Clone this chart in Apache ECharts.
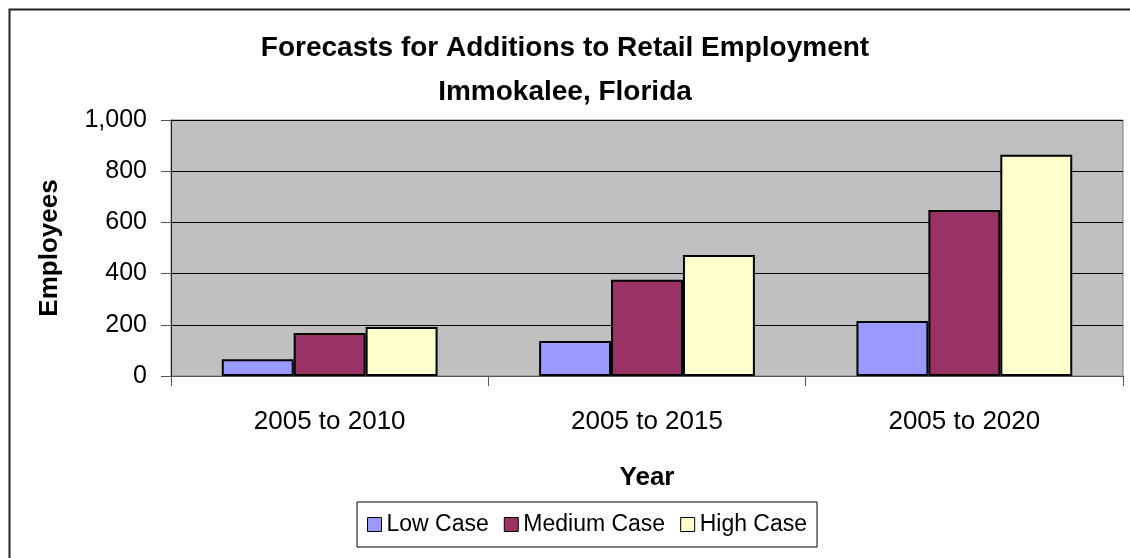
<!DOCTYPE html>
<html>
<head>
<meta charset="utf-8">
<script src="https://cdn.jsdelivr.net/npm/echarts@6/dist/echarts.min.js"></script>
<style>
  html, body { margin: 0; padding: 0; background: #fff; }
  #chart { width: 1130px; height: 558px; }
</style>
</head>
<body>
<div id="chart"></div>
<script>
const categories = ["2005 to 2010", "2005 to 2015", "2005 to 2020"];
const lowCase = [65, 137, 215];
const mediumCase = [168, 376, 648];
const highCase = [191, 473, 864];
const yTicks = { min: 0, max: 1000, step: 200 };

const font = "'Liberation Sans', Arial, sans-serif";

function fmtNum(v) {
  return Number(v).toLocaleString("en-US");
}

function bar(name, data, color) {
  return {
    name,
    type: "bar",
    data,
    barGap: "0%",
    barCategoryGap: "32%",
    itemStyle: { color, borderColor: "#000", borderWidth: 2 },
  };
}

const chart = echarts.init(document.getElementById("chart"));
chart.setOption({
  animation: false,
  textStyle: { fontFamily: font },
  title: {
    text: "Forecasts for Additions to Retail Employment\nImmokalee, Florida",
    left: "center",
    top: 26,
    padding: [0, 0, 0, 19],
    textStyle: { fontFamily: font, fontSize: 28, fontWeight: "bold", color: "#000", lineHeight: 44 },
  },
  graphic: [
    {
      type: "rect",
      left: 7,
      top: 7,
      shape: { width: 1140, height: 570 },
      style: { fill: "none", stroke: "#222", lineWidth: 2 },
      silent: true,
    },
  ],
  legend: {
    left: 357,
    top: 502,
    padding: [11, 10],
    itemGap: 15,
    itemWidth: 14,
    itemHeight: 14,
    itemTextGap: 5,
    icon: "rect",
    borderColor: "#000",
    borderWidth: 1,
    textStyle: { fontFamily: font, fontSize: 23, color: "#000" },
    itemStyle: { borderColor: "#000", borderWidth: 1 },
  },
  grid: {
    left: 171,
    right: 7,
    top: 120,
    bottom: 182,
    show: true,
    backgroundColor: "#c0c0c0",
    borderColor: "#808080",
    borderWidth: 1,
  },
  xAxis: {
    type: "category",
    data: categories,
    name: "Year",
    nameLocation: "middle",
    nameGap: 89,
    nameTextStyle: { fontFamily: font, fontSize: 26, fontWeight: "bold", color: "#000" },
    axisLine: { lineStyle: { color: "#555", width: 1 } },
    axisTick: { show: true, length: 10, lineStyle: { color: "#555" } },
    axisLabel: { fontFamily: font, fontSize: 26, color: "#000", margin: 33 },
  },
  yAxis: {
    type: "value",
    min: yTicks.min,
    max: yTicks.max,
    interval: yTicks.step,
    name: "Employees",
    nameLocation: "middle",
    nameGap: 108,
    nameTextStyle: { fontFamily: font, fontSize: 26, fontWeight: "bold", color: "#000" },
    axisLine: { show: true, lineStyle: { color: "#222", width: 1 } },
    axisTick: { show: true, length: 10, lineStyle: { color: "#555" } },
    axisLabel: { fontFamily: font, fontSize: 25, color: "#000", margin: 24, formatter: fmtNum },
    splitLine: { lineStyle: { color: "#000", width: 1 } },
  },
  series: [
    bar("Low Case", lowCase, "#9999ff"),
    bar("Medium Case", mediumCase, "#993366"),
    bar("High Case", highCase, "#ffffcc"),
  ],
});
</script>
</body>
</html>
